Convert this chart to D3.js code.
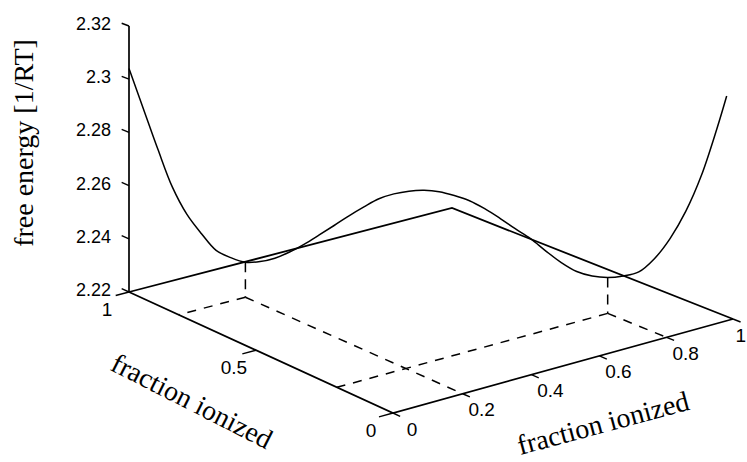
<!DOCTYPE html>
<html><head><meta charset="utf-8">
<script src="https://cdn.jsdelivr.net/npm/d3@7"></script>
<style>body{margin:0;background:#fff} svg{display:block}</style>
</head><body>
<svg id="c" width="747" height="462"></svg>
<script>
// ---------- data ----------
const fraction = [0,0.025,0.05,0.075,0.1,0.125,0.15,0.175,0.2,0.225,0.25,0.275,0.3,0.325,0.35,0.375,0.4,0.425,0.45,0.475,0.5,
  0.525,0.55,0.575,0.6,0.625,0.65,0.675,0.7,0.725,0.75,0.775,0.8,0.825,0.85,0.875,0.9,0.925,0.95,0.975,0.99];
const freeEnergy = [2.304,2.289,2.274,2.260,2.250,2.243,2.237,2.2345,2.233,2.2335,2.235,2.2375,2.2407,2.2443,2.248,2.2518,2.2553,2.2585,2.2605,2.2617,2.2622,
  2.2619,2.2607,2.259,2.2563,2.253,2.2494,2.246,2.2417,2.2377,2.2347,2.2333,2.233,2.2338,2.2355,2.2405,2.248,2.258,2.2712,2.2885,2.300];
const minFraction = [0.2, 0.8];
const minEnergy = [2.233, 2.233];
const xTicks = [0,0.2,0.4,0.6,0.8,1];
const xTickLabels = ["0","0.2","0.4","0.6","0.8","1"];
const yTicks = [0,0.5,1];
const yTickLabels = ["0","0.5","1"];
const zTicks = [2.22,2.24,2.26,2.28,2.30,2.32];
const zTickLabels = ["2.22","2.24","2.26","2.28","2.3","2.32"];
const zLabel = "free energy [1/RT]";
const xLabel = "fraction ionized";
const yLabel = "fraction ionized";

// ---------- projection ----------
const svg = d3.select("#c");
const xS = d3.scaleLinear().domain([0,1]).range([0,1]);
const yS = d3.scaleLinear().domain([0,1]).range([0,1]);
const zS = d3.scaleLinear().domain([2.22,2.32]).range([0,287]);
const Z0 = zS.domain()[0];

// base-plane corners on screen (x,y): (0,0),(1,0),(1,1),(0,1)
const c00=[393,413], c10=[733,319], c11=[452,208], c01=[129,292];
const dx1=c10[0]-c11[0], dx2=c01[0]-c11[0], dx3=c00[0]-c10[0]+c11[0]-c01[0];
const dy1=c10[1]-c11[1], dy2=c01[1]-c11[1], dy3=c00[1]-c10[1]+c11[1]-c01[1];
const den = dx1*dy2-dx2*dy1;
const G=(dx3*dy2-dx2*dy3)/den, H=(dx1*dy3-dx3*dy1)/den;
const A=c10[0]-c00[0]+G*c10[0], B=c01[0]-c00[0]+H*c01[0], C=c00[0];
const D=c10[1]-c00[1]+G*c10[1], E=c01[1]-c00[1]+H*c01[1], F=c00[1];
function P(x,y,z){
  const u=xS(x), v=yS(y), w=G*u+H*v+1;
  return [(A*u+B*v+C)/w, (D*u+E*v+F)/w - zS(z==null?Z0:z)/w];
}
const line = d3.line();
const g = svg.append("g").attr("fill","none").attr("stroke","#000");

// box edges
g.append("path").attr("d", line([P(0,1),P(1,1),P(1,0)])).attr("stroke-width",1.8);
g.append("path").attr("d", line([P(0,1),P(0,0),P(1,0)])).attr("stroke-width",1.7);
g.append("path").attr("d", line([P(0,1,zTicks[0]),P(0,1,zTicks[zTicks.length-1])])).attr("stroke-width",1.7);

// ticks
xTicks.forEach(t=>g.append("path").attr("d",line([P(t,0),P(t,-0.025)])).attr("stroke-width",1.4));
yTicks.forEach(t=>g.append("path").attr("d",line([P(0,t),P(-0.04,t)])).attr("stroke-width",1.4));
zTicks.forEach(t=>g.append("path").attr("d",line([P(0,1,t),P(0,1.03,t)])).attr("stroke-width",1.4));

// curve along x + y = 1
g.append("path")
  .attr("d", d3.line().curve(d3.curveCatmullRom)(fraction.map((f,i)=>P(f,1-f,freeEnergy[i]))))
  .attr("stroke-width",1.5);

// dashed projection lines from minima
minFraction.forEach((m,i)=>{
  g.append("path").attr("d",line([P(m,1-m,minEnergy[i]),P(m,1-m)])).attr("stroke-width",1.5).attr("stroke-dasharray","10,7");
  g.append("path").attr("d",line([P(m,1-m),P(0,1-m)])).attr("stroke-width",1.5).attr("stroke-dasharray","9,8");
  g.append("path").attr("d",line([P(m,1-m),P(m,0)])).attr("stroke-width",1.5).attr("stroke-dasharray","9,8");
});

// tick labels
const lab = svg.append("g").attr("font-family","Liberation Sans, Arial, sans-serif").attr("fill","#000");
zTicks.forEach((t,i)=>{const p=P(0,1,t);
  lab.append("text").attr("x",p[0]-18).attr("y",p[1]-2).attr("dominant-baseline","central")
   .attr("text-anchor","end").attr("font-size",18).text(zTickLabels[i]);});
xTicks.forEach((t,i)=>{const p=P(t,0); const last = i===xTicks.length-1;
  lab.append("text").attr("x",last?746:p[0]+19).attr("y",p[1]+16).attr("dominant-baseline","central")
   .attr("text-anchor",last?"end":"middle").attr("font-size",19).text(xTickLabels[i]);});
yTicks.forEach((t,i)=>{const p=P(0,t);
  lab.append("text").attr("x",p[0]-22).attr("y",p[1]+17).attr("dominant-baseline","central")
   .attr("text-anchor","middle").attr("font-size",19).text(yTickLabels[i]);});

// axis titles
const tt = svg.append("g").attr("font-family","Liberation Serif, Times New Roman, serif").attr("fill","#000").attr("font-size",28);
tt.append("text").attr("transform","translate(33,143) rotate(-90)").attr("text-anchor","middle").text(zLabel);
tt.append("text").attr("transform","translate(192,401) rotate(27)").attr("text-anchor","middle").attr("dominant-baseline","central").text(yLabel);
tt.append("text").attr("transform","translate(603,423) rotate(-15)").attr("text-anchor","middle").attr("dominant-baseline","central").text(xLabel);
</script>
</body></html>
